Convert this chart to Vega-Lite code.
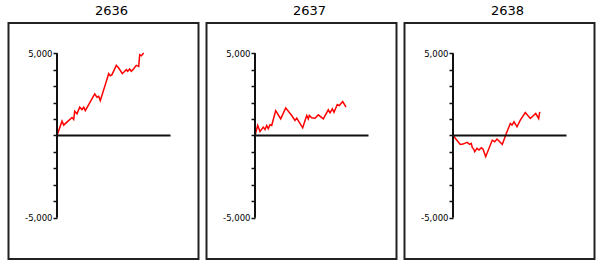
{
  "$schema": "https://vega.github.io/schema/vega-lite/v6.json",
  "padding": {"left": 7.5, "top": 4, "right": 0, "bottom": 0},
  "spacing": 6,
  "datasets": {
    "s2636": [
      {"x": 0, "pnl": 0}, {"x": 5, "pnl": 869}, {"x": 6.7, "pnl": 626}, {"x": 11, "pnl": 869},
      {"x": 15, "pnl": 1091}, {"x": 16.7, "pnl": 970}, {"x": 17.7, "pnl": 1475}, {"x": 20, "pnl": 1313},
      {"x": 22.7, "pnl": 1717}, {"x": 25, "pnl": 1576}, {"x": 26.7, "pnl": 1717}, {"x": 28.3, "pnl": 1515},
      {"x": 32.7, "pnl": 1980}, {"x": 37.7, "pnl": 2525}, {"x": 40, "pnl": 2323}, {"x": 41.7, "pnl": 2383},
      {"x": 43.3, "pnl": 2121}, {"x": 48.3, "pnl": 3091}, {"x": 51.7, "pnl": 3757}, {"x": 53.3, "pnl": 3636},
      {"x": 55, "pnl": 3697}, {"x": 59.3, "pnl": 4262}, {"x": 61.7, "pnl": 4101}, {"x": 65.3, "pnl": 3757},
      {"x": 69.3, "pnl": 4000}, {"x": 70.7, "pnl": 3899}, {"x": 72.7, "pnl": 4040}, {"x": 74.3, "pnl": 3899},
      {"x": 76.7, "pnl": 4060}, {"x": 79.3, "pnl": 4262}, {"x": 81.7, "pnl": 4202}, {"x": 82.7, "pnl": 4909},
      {"x": 84.3, "pnl": 4848}, {"x": 86.7, "pnl": 5010}
    ],
    "s2637": [
      {"x": 0, "pnl": 0}, {"x": 2.7, "pnl": 606}, {"x": 5, "pnl": 242}, {"x": 8.3, "pnl": 505},
      {"x": 10, "pnl": 364}, {"x": 11.7, "pnl": 606}, {"x": 13.3, "pnl": 404}, {"x": 15, "pnl": 646},
      {"x": 16.7, "pnl": 606}, {"x": 20.7, "pnl": 1515}, {"x": 25.7, "pnl": 1010}, {"x": 30.7, "pnl": 1677},
      {"x": 36.7, "pnl": 1212}, {"x": 40, "pnl": 909}, {"x": 41.7, "pnl": 1050}, {"x": 47.7, "pnl": 465},
      {"x": 51.7, "pnl": 1212}, {"x": 53.3, "pnl": 1010}, {"x": 54.3, "pnl": 1212}, {"x": 56.7, "pnl": 1071},
      {"x": 60, "pnl": 1050}, {"x": 63.3, "pnl": 1252}, {"x": 68.3, "pnl": 1010}, {"x": 73.3, "pnl": 1555},
      {"x": 75, "pnl": 1374}, {"x": 77.3, "pnl": 1616}, {"x": 79, "pnl": 1414}, {"x": 82.3, "pnl": 1879},
      {"x": 84.3, "pnl": 1818}, {"x": 87.7, "pnl": 2060}, {"x": 91, "pnl": 1717}
    ],
    "s2638": [
      {"x": 0, "pnl": 0}, {"x": 7.3, "pnl": -545}, {"x": 10, "pnl": -525}, {"x": 14, "pnl": -424},
      {"x": 16.7, "pnl": -545}, {"x": 18.3, "pnl": -485}, {"x": 19.3, "pnl": -747}, {"x": 20.7, "pnl": -828},
      {"x": 21.7, "pnl": -990}, {"x": 24, "pnl": -788}, {"x": 26, "pnl": -889}, {"x": 28.3, "pnl": -747},
      {"x": 30, "pnl": -828}, {"x": 32.7, "pnl": -1293}, {"x": 39.3, "pnl": -283}, {"x": 41.7, "pnl": -384},
      {"x": 44, "pnl": -222}, {"x": 49.3, "pnl": -545}, {"x": 53.3, "pnl": 121}, {"x": 57.3, "pnl": 727},
      {"x": 59, "pnl": 626}, {"x": 61, "pnl": 828}, {"x": 64, "pnl": 525}, {"x": 67.3, "pnl": 929},
      {"x": 72.3, "pnl": 1394}, {"x": 77.3, "pnl": 1030}, {"x": 82.7, "pnl": 1333}, {"x": 85.7, "pnl": 1030},
      {"x": 86.7, "pnl": 1434}
    ]
  },
  "hconcat": [
    {
      "width": 190, "height": 236,
      "title": {"text": "2636"},
      "data": {"name": "s2636"},
      "layer": [
        {"mark": {"type": "line", "color": "#ff0000", "strokeWidth": 1.5},
         "encoding": {
           "x": {"field": "x", "type": "quantitative", "scale": {"domain": [-48.5, 141.5], "nice": false, "zero": false}, "axis": null},
           "y": {"field": "pnl", "type": "quantitative", "scale": {"domain": [-7514, 6838], "nice": false, "zero": false},
                 "axis": {"values": [-5000, -4000, -3000, -2000, -1000, 0, 1000, 2000, 3000, 4000, 5000], "labelExpr": "datum.value == 5000 ? '5,000' : datum.value == -5000 ? '-5,000' : ''", "offset": -48.5, "title": null}}
         }},
        {"transform": [{"aggregate": [{"op": "count", "as": "n"}], "groupby": []}],
         "mark": {"type": "rule", "color": "#111", "strokeWidth": 2},
         "encoding": {"x": {"datum": 0, "type": "quantitative", "axis": null, "title": null},
                      "y": {"datum": -5000, "type": "quantitative", "title": null, "axis": {"values": [-5000, -4000, -3000, -2000, -1000, 0, 1000, 2000, 3000, 4000, 5000], "labelExpr": "datum.value == 5000 ? '5,000' : datum.value == -5000 ? '-5,000' : ''", "offset": -48.5, "title": null}},
                      "y2": {"datum": 5000}}},
        {"transform": [{"aggregate": [{"op": "count", "as": "n"}], "groupby": []}],
         "mark": {"type": "rule", "color": "#111", "strokeWidth": 2},
         "encoding": {"y": {"datum": 0, "type": "quantitative", "title": null, "axis": {"values": [-5000, -4000, -3000, -2000, -1000, 0, 1000, 2000, 3000, 4000, 5000], "labelExpr": "datum.value == 5000 ? '5,000' : datum.value == -5000 ? '-5,000' : ''", "offset": -48.5, "title": null}},
                      "x": {"datum": 0, "type": "quantitative", "axis": null, "title": null}, "x2": {"datum": 113.5}}}
      ]
    },
    {
      "width": 190, "height": 236,
      "title": {"text": "2637"},
      "data": {"name": "s2637"},
      "layer": [
        {"mark": {"type": "line", "color": "#ff0000", "strokeWidth": 1.5},
         "encoding": {
           "x": {"field": "x", "type": "quantitative", "scale": {"domain": [-48.5, 141.5], "nice": false, "zero": false}, "axis": null},
           "y": {"field": "pnl", "type": "quantitative", "scale": {"domain": [-7514, 6838], "nice": false, "zero": false},
                 "axis": {"values": [-5000, -4000, -3000, -2000, -1000, 0, 1000, 2000, 3000, 4000, 5000], "labelExpr": "datum.value == 5000 ? '5,000' : datum.value == -5000 ? '-5,000' : ''", "offset": -48.5, "title": null}}
         }},
        {"transform": [{"aggregate": [{"op": "count", "as": "n"}], "groupby": []}],
         "mark": {"type": "rule", "color": "#111", "strokeWidth": 2},
         "encoding": {"x": {"datum": 0, "type": "quantitative", "axis": null, "title": null},
                      "y": {"datum": -5000, "type": "quantitative", "title": null, "axis": {"values": [-5000, -4000, -3000, -2000, -1000, 0, 1000, 2000, 3000, 4000, 5000], "labelExpr": "datum.value == 5000 ? '5,000' : datum.value == -5000 ? '-5,000' : ''", "offset": -48.5, "title": null}},
                      "y2": {"datum": 5000}}},
        {"transform": [{"aggregate": [{"op": "count", "as": "n"}], "groupby": []}],
         "mark": {"type": "rule", "color": "#111", "strokeWidth": 2},
         "encoding": {"y": {"datum": 0, "type": "quantitative", "title": null, "axis": {"values": [-5000, -4000, -3000, -2000, -1000, 0, 1000, 2000, 3000, 4000, 5000], "labelExpr": "datum.value == 5000 ? '5,000' : datum.value == -5000 ? '-5,000' : ''", "offset": -48.5, "title": null}},
                      "x": {"datum": 0, "type": "quantitative", "axis": null, "title": null}, "x2": {"datum": 113.5}}}
      ]
    },
    {
      "width": 190, "height": 236,
      "title": {"text": "2638"},
      "data": {"name": "s2638"},
      "layer": [
        {"mark": {"type": "line", "color": "#ff0000", "strokeWidth": 1.5},
         "encoding": {
           "x": {"field": "x", "type": "quantitative", "scale": {"domain": [-48.5, 141.5], "nice": false, "zero": false}, "axis": null},
           "y": {"field": "pnl", "type": "quantitative", "scale": {"domain": [-7514, 6838], "nice": false, "zero": false},
                 "axis": {"values": [-5000, -4000, -3000, -2000, -1000, 0, 1000, 2000, 3000, 4000, 5000], "labelExpr": "datum.value == 5000 ? '5,000' : datum.value == -5000 ? '-5,000' : ''", "offset": -48.5, "title": null}}
         }},
        {"transform": [{"aggregate": [{"op": "count", "as": "n"}], "groupby": []}],
         "mark": {"type": "rule", "color": "#111", "strokeWidth": 2},
         "encoding": {"x": {"datum": 0, "type": "quantitative", "axis": null, "title": null},
                      "y": {"datum": -5000, "type": "quantitative", "title": null, "axis": {"values": [-5000, -4000, -3000, -2000, -1000, 0, 1000, 2000, 3000, 4000, 5000], "labelExpr": "datum.value == 5000 ? '5,000' : datum.value == -5000 ? '-5,000' : ''", "offset": -48.5, "title": null}},
                      "y2": {"datum": 5000}}},
        {"transform": [{"aggregate": [{"op": "count", "as": "n"}], "groupby": []}],
         "mark": {"type": "rule", "color": "#111", "strokeWidth": 2},
         "encoding": {"y": {"datum": 0, "type": "quantitative", "title": null, "axis": {"values": [-5000, -4000, -3000, -2000, -1000, 0, 1000, 2000, 3000, 4000, 5000], "labelExpr": "datum.value == 5000 ? '5,000' : datum.value == -5000 ? '-5,000' : ''", "offset": -48.5, "title": null}},
                      "x": {"datum": 0, "type": "quantitative", "axis": null, "title": null}, "x2": {"datum": 113.5}}}
      ]
    }
  ],
  "config": {
    "view": {"stroke": "#222", "strokeWidth": 2},
    "title": {"font": "DejaVu Sans", "fontSize": 13, "fontWeight": "normal", "color": "#000", "anchor": "middle", "dx": 8, "offset": 5},
    "axis": {
      "domain": false, "grid": false, "ticks": true, "tickSize": 4, "tickWidth": 1.5, "tickColor": "#111",
      "labelFont": "DejaVu Sans", "labelFontSize": 8.5, "labelColor": "#000", "labelPadding": 1
    }
  }
}
